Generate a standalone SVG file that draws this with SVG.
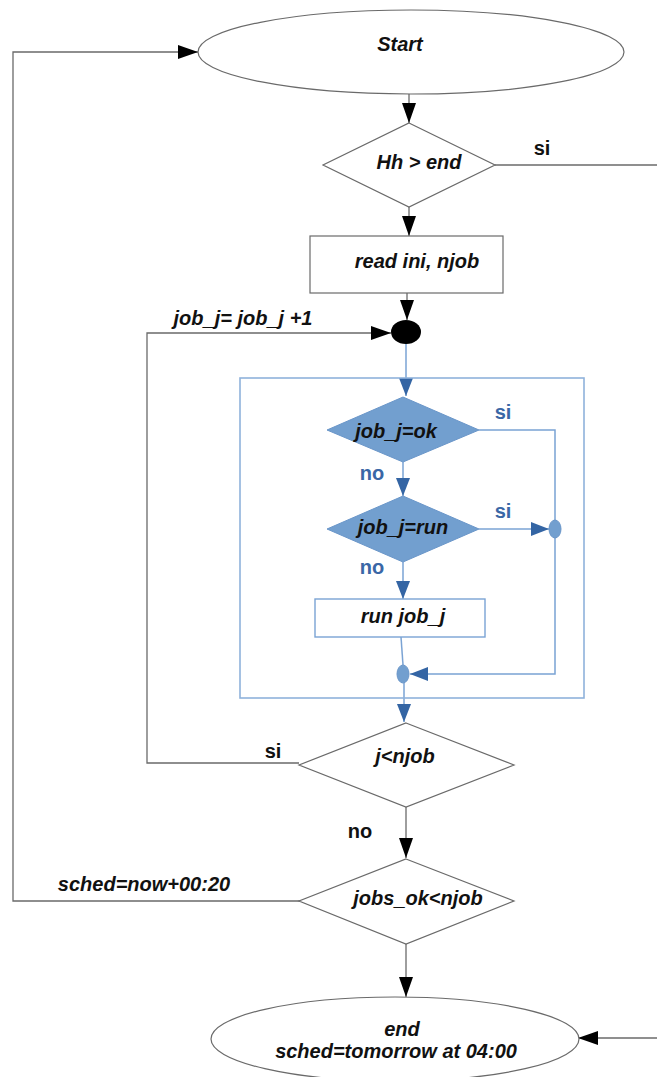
<svg xmlns="http://www.w3.org/2000/svg" width="657" height="1077" viewBox="0 0 657 1077">
<style>
.bg{fill:#ffffff}
.node{fill:#ffffff;stroke:#6a6a6a;stroke-width:1.2}
.bnode{fill:#ffffff;stroke:#7aa3d4;stroke-width:1.4}
.bdia{fill:#729fcf;stroke:#6a96c9;stroke-width:1}
.frame{fill:none;stroke:#8fb2db;stroke-width:1.6}
.line{fill:none;stroke:#6a6a6a;stroke-width:1.3}
.bline{fill:none;stroke:#7aa3d4;stroke-width:1.5}
.t{font-family:"Liberation Sans",Arial,sans-serif;font-weight:bold;font-style:italic;font-size:20px;fill:#111;text-anchor:middle;dominant-baseline:central}
.lab{font-family:"Liberation Sans",Arial,sans-serif;font-weight:bold;font-size:20px;fill:#111;text-anchor:middle;dominant-baseline:central}
.blab{font-family:"Liberation Sans",Arial,sans-serif;font-weight:bold;font-size:20px;fill:#3a67a6;text-anchor:middle;dominant-baseline:central}
</style>
<defs>
<marker id="ak" viewBox="0 0 20 14" refX="20" refY="7" markerWidth="20" markerHeight="14" markerUnits="userSpaceOnUse" orient="auto"><path d="M0,0 L20,7 L0,14 Z" fill="#000"/></marker>
<marker id="ab" viewBox="0 0 18 14" refX="18" refY="7" markerWidth="18" markerHeight="14" markerUnits="userSpaceOnUse" orient="auto"><path d="M0,0 L18,7 L0,14 Z" fill="#3465a4"/></marker>
</defs>
<rect class="bg" x="0" y="0" width="657" height="1077"/>
<g id="connectors">
<path class="line" d="M300,901 H13 V52 H198" marker-end="url(#ak)"/>
<path class="line" d="M409,94 V123" marker-end="url(#ak)"/>
<path class="line" d="M495,165 H657"/>
<path class="line" d="M409,207 V236" marker-end="url(#ak)"/>
<path class="line" d="M407,293 V320" marker-end="url(#ak)"/>
<path class="line" d="M299,763 H147 V333 H391" marker-end="url(#ak)"/>
<path class="bline" d="M406,344 V396" marker-end="url(#ab)"/>
<path class="bline" d="M479,430 H555 V674 H410" marker-end="url(#ab)"/>
<path class="bline" d="M403,462 V496" marker-end="url(#ab)"/>
<path class="bline" d="M479,529 H549" marker-end="url(#ab)"/>
<path class="bline" d="M403,562 V599" marker-end="url(#ab)"/>
<path class="bline" d="M401,637 L403,665"/>
<path class="bline" d="M404,683 V722" marker-end="url(#ab)"/>
<path class="line" d="M406,807 V858" marker-end="url(#ak)"/>
<path class="line" d="M406,944 V997" marker-end="url(#ak)"/>
<path class="line" d="M657,1038 H578" marker-end="url(#ak)"/>
</g>
<g id="labels">
<text class="lab" x="542" y="148">si</text>
<text class="t" x="243" y="318">job_j= job_j +1</text>
<text class="blab" x="503" y="412">si</text>
<text class="blab" x="372" y="473">no</text>
<text class="blab" x="503" y="511">si</text>
<text class="blab" x="372" y="567">no</text>
<text class="lab" x="273" y="751">si</text>
<text class="lab" x="360" y="831">no</text>
<text class="t" x="144" y="884">sched=now+00:20</text>
</g>
<g id="frame"><rect class="frame" x="240" y="378" width="344" height="320"/></g>
<g id="start"><ellipse class="node" cx="411" cy="52" rx="213" ry="42"/><text class="t" x="400" y="44">Start</text></g>
<g id="hh"><polygon class="node" points="409,123 495,165 409,207 323,165"/><text class="t" x="419" y="162">Hh &gt; end</text></g>
<g id="read"><rect class="node" x="310" y="236" width="193" height="57"/><text class="t" x="417" y="261">read ini, njob</text></g>
<g id="junction"><ellipse cx="406" cy="332" rx="15" ry="12" fill="#000"/></g>
<g id="ok"><polygon class="bdia" points="403,397 479,430 403,462 327,430"/><text class="t" x="396" y="431">job_j=ok</text></g>
<g id="run"><polygon class="bdia" points="403,496 479,529 403,562 327,529"/><text class="t" x="403" y="527">job_j=run</text></g>
<g id="runjob"><rect class="bnode" x="315" y="599" width="170" height="38"/><text class="t" x="403" y="616">run job_j</text></g>
<g id="merge1"><ellipse cx="555" cy="529" rx="6" ry="9" fill="#729fcf" stroke="#6a96c9"/></g>
<g id="merge2"><ellipse cx="403" cy="674" rx="6" ry="9" fill="#729fcf" stroke="#6a96c9"/></g>
<g id="jn"><polygon class="node" points="406,723 514,765 406,807 299,765"/><text class="t" x="405" y="756">j&lt;njob</text></g>
<g id="jobsok"><polygon class="node" points="406,859 514,901 406,944 299,901"/><text class="t" x="418" y="898">jobs_ok&lt;njob</text></g>
<g id="end"><ellipse class="node" cx="395" cy="1039" rx="184" ry="42"/><text class="t" x="402" y="1029">end</text><text class="t" x="396" y="1051">sched=tomorrow at 04:00</text></g>
</svg>
